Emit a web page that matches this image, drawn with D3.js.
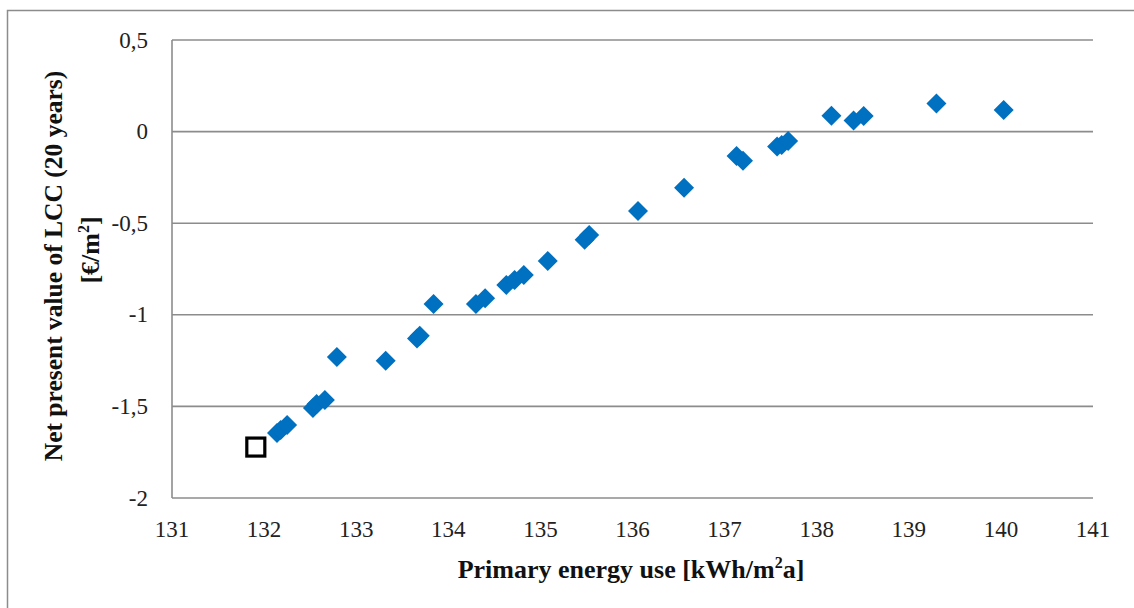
<!DOCTYPE html>
<html>
<head>
<meta charset="utf-8">
<script src="https://cdn.jsdelivr.net/npm/d3@7/dist/d3.min.js"></script>
</head>
<body style="margin:0">
<svg id="chart" width="1134" height="608"></svg>
<script>
// Data
const energyUse = [131.91, 132.14, 132.18, 132.25, 132.53, 132.57, 132.66, 132.79, 133.32, 133.66, 133.69,
  133.84, 134.30, 134.40, 134.63, 134.72, 134.82, 135.08, 135.48, 135.53, 136.06, 136.56,
  137.13, 137.20, 137.57, 137.62, 137.69, 138.16, 138.40, 138.51, 139.30, 140.03];
const npvLCC = [-1.722, -1.645, -1.629, -1.601, -1.509, -1.487, -1.465, -1.230, -1.251, -1.130, -1.114,
  -0.941, -0.941, -0.910, -0.837, -0.810, -0.783, -0.706, -0.591, -0.564, -0.433, -0.306,
  -0.133, -0.159, -0.082, -0.073, -0.051, 0.087, 0.060, 0.085, 0.154, 0.118];
const optimumX = [131.91];
const optimumY = [-1.722];
const xTicks = [131, 132, 133, 134, 135, 136, 137, 138, 139, 140, 141];
const yTicks = [0.5, 0, -0.5, -1, -1.5, -2];
const yTickLabels = ["0,5", "0", "-0,5", "-1", "-1,5", "-2"];

const svg = d3.select("#chart").style("font-family", '"Liberation Serif"');
const grid = "#8c8c8c";

// Outer chart border
svg.append("rect").attr("x", 7.5).attr("y", 10.5).attr("width", 1140).attr("height", 620)
  .attr("fill", "none").attr("stroke", grid).attr("stroke-width", 1.5);

const x = d3.scaleLinear().domain([131, 141]).range([172, 1093]);
const y = d3.scaleLinear().domain([-2, 0.5]).range([498, 40]);

// Gridlines
svg.append("g").selectAll("line").data(yTicks).join("line")
  .attr("x1", x(131)).attr("x2", x(141))
  .attr("y1", d => y(d)).attr("y2", d => y(d))
  .attr("stroke", grid).attr("stroke-width", 1.6);

// Left axis line
svg.append("line").attr("x1", x(131)).attr("x2", x(131))
  .attr("y1", y(0.5)).attr("y2", y(-2))
  .attr("stroke", grid).attr("stroke-width", 1.6);

// Y tick labels
svg.selectAll("text.ytick").data(yTicks).join("text").attr("class", "ytick")
  .attr("x", 148).attr("y", d => y(d) + 7.5)
  .attr("text-anchor", "end")
  .style("font-family", '"Liberation Serif"').style("font-size", "23px").attr("fill", "#222")
  .text((d, i) => yTickLabels[i]);

// X tick labels
svg.selectAll("text.xtick").data(xTicks).join("text").attr("class", "xtick")
  .attr("x", d => x(d)).attr("y", 537)
  .attr("text-anchor", "middle")
  .style("font-family", '"Liberation Serif"').style("font-size", "23px").attr("fill", "#222")
  .text(d => d);

// Axis titles
const xt = svg.append("text").attr("x", 631).attr("y", 578)
  .attr("text-anchor", "middle")
  .style("font-family", '"Liberation Serif"').style("font-size", "26px").style("font-weight", "bold").attr("fill", "#111");
xt.append("tspan").text("Primary energy use [kWh/m");
xt.append("tspan").style("font-size", "16px").attr("dy", -10).text("2");
xt.append("tspan").attr("dy", 10).text("a]");

const yt = svg.append("g").attr("transform", "translate(0,266) rotate(-90)");
yt.append("text").attr("x", 0).attr("y", 62).attr("text-anchor", "middle")
  .style("font-family", '"Liberation Serif"').style("font-size", "25.5px").style("font-weight", "bold").attr("fill", "#111")
  .text("Net present value of LCC (20 years)");
const yt2 = yt.append("text").attr("x", 16).attr("y", 99).attr("text-anchor", "middle")
  .style("font-family", '"Liberation Serif"').style("font-size", "26px").style("font-weight", "bold").attr("fill", "#111");
yt2.append("tspan").text("[€/m");
yt2.append("tspan").style("font-size", "16px").attr("dy", -10).text("2");
yt2.append("tspan").attr("dy", 10).text("]");

// Diamonds
const pts = energyUse.map((v, i) => [v, npvLCC[i]]);
const diamond = d3.symbol().type(d3.symbolSquare).size(200);
svg.append("g").selectAll("path").data(pts).join("path")
  .attr("d", diamond)
  .attr("transform", d => `translate(${x(d[0])},${y(d[1])}) rotate(45)`)
  .attr("fill", "#0070C0");

// Optimum marker (open square)
svg.append("g").selectAll("rect").data(optimumX.map((v, i) => [v, optimumY[i]])).join("rect")
  .attr("x", d => x(d[0]) - 9).attr("y", d => y(d[1]) - 9)
  .attr("width", 18).attr("height", 18)
  .attr("fill", "#fff").attr("stroke", "#000").attr("stroke-width", 3.2);
</script>
</body>
</html>
